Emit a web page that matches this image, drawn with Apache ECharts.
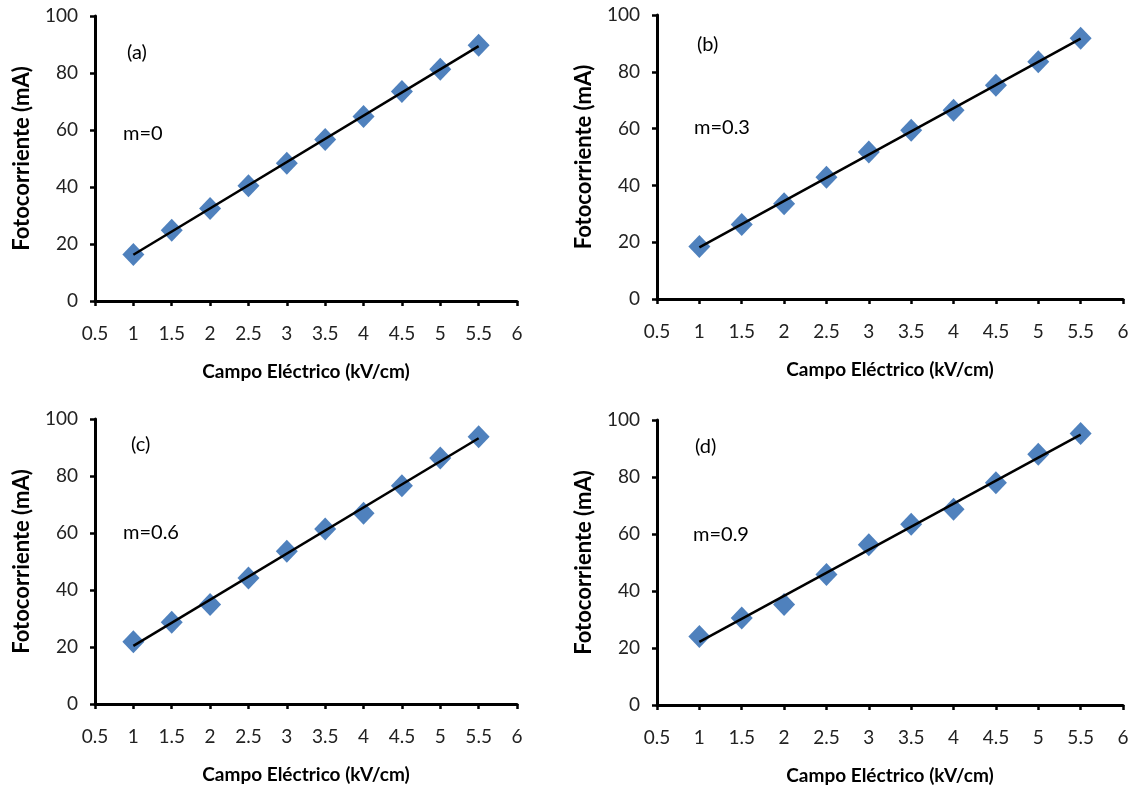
<!DOCTYPE html>
<html><head><meta charset="utf-8">
<script src="https://cdn.jsdelivr.net/npm/echarts@6/dist/echarts.min.js"></script>
<style>html,body{margin:0;padding:0;background:#fff}#c{width:1136px;height:792px}</style>
</head><body><div id="c"></div>
<script>
const xValues = [1, 1.5, 2, 2.5, 3, 3.5, 4, 4.5, 5, 5.5];
const seriesA = [16.3, 24.8, 32.5, 40.4, 48.3, 56.7, 64.7, 73.5, 81.3, 89.7];
const seriesB = [18.5, 26.2, 33.5, 42.9, 51.8, 59.4, 66.5, 75.3, 83.5, 91.8];
const seriesC = [21.8, 28.7, 34.9, 44.2, 53.6, 61.4, 66.9, 76.6, 86.3, 93.8];
const seriesD = [24.0, 30.5, 35.3, 45.8, 56.2, 63.4, 68.7, 78.0, 88.0, 95.3];
const panelLabels = ['(a)', '(b)', '(c)', '(d)'];
const mLabels = ['m=0', 'm=0.3', 'm=0.6', 'm=0.9'];
const xName = 'Campo Eléctrico (kV/cm)';
const yName = 'Fotocorriente (mA)';

const allSeries = [seriesA, seriesB, seriesC, seriesD];
const grids = [
  {left: 95, top: 16, width: 422, height: 285},
  {left: 657, top: 15, width: 466, height: 284},
  {left: 95, top: 419, width: 422, height: 285},
  {left: 657, top: 420, width: 466, height: 285}
];
const labelPos = [
  [[127, 43], [123, 124]],
  [[697, 35], [694, 118]],
  [[131, 435], [123, 523]],
  [[695, 437], [693, 525]]
];
const font = 'Lato, "Open Sans", sans-serif';

function fit(xs, ys) {
  const n = xs.length;
  let sx = 0, sy = 0, sxx = 0, sxy = 0;
  for (let i = 0; i < n; i++) { sx += xs[i]; sy += ys[i]; sxx += xs[i]*xs[i]; sxy += xs[i]*ys[i]; }
  const b = (n*sxy - sx*sy) / (n*sxx - sx*sx);
  const a = (sy - b*sx) / n;
  return [[xs[0], a + b*xs[0]], [xs[n-1], a + b*xs[n-1]]];
}

const xAxes = [], yAxes = [], series = [], graphics = [];
grids.forEach((g, i) => {
  xAxes.push({
    type: 'value', gridIndex: i, min: 0.5, max: 6, interval: 0.5,
    splitLine: {show: false},
    axisLine: {lineStyle: {color: '#000', width: 3}},
    axisTick: {show: true, length: 5, lineStyle: {color: '#000', width: 2.5}},
    axisLabel: {color: '#222', fontSize: 19, fontFamily: font, margin: 23},
    name: xName, nameLocation: 'middle', nameGap: 61,
    nameTextStyle: {color: '#000', fontSize: 19, fontWeight: 'bold', fontFamily: font}
  });
  yAxes.push({
    type: 'value', gridIndex: i, min: 0, max: 100, interval: 20,
    splitLine: {show: false},
    axisLine: {show: true, lineStyle: {color: '#000', width: 3}},
    axisTick: {show: true, length: 5, lineStyle: {color: '#000', width: 2.5}},
    axisLabel: {color: '#222', fontSize: 19, fontFamily: font, margin: 17},
    name: yName, nameLocation: 'middle', nameGap: 62,
    nameTextStyle: {color: '#000', fontSize: 22, fontWeight: 'bold', fontFamily: font}
  });
  const ys = allSeries[i];
  series.push({
    type: 'scatter', xAxisIndex: i, yAxisIndex: i,
    data: xValues.map((x, k) => [x, ys[k]]),
    symbol: 'diamond', symbolSize: [22, 23],
    itemStyle: {color: '#4F81BD', opacity: 1},
    z: 2
  });
  series.push({
    type: 'line', xAxisIndex: i, yAxisIndex: i,
    data: fit(xValues, ys), symbol: 'none',
    lineStyle: {color: '#000', width: 2.5},
    z: 3
  });
  graphics.push({type: 'text', left: labelPos[i][0][0], top: labelPos[i][0][1],
    style: {text: panelLabels[i], fontSize: 20, fontFamily: font, fill: '#000'}});
  graphics.push({type: 'text', left: labelPos[i][1][0], top: labelPos[i][1][1],
    style: {text: mLabels[i], fontSize: 20, fontFamily: font, fill: '#000'}});
});

const chart = echarts.init(document.getElementById('c'));
chart.setOption({
  animation: false,
  backgroundColor: '#fff',
  grid: grids,
  xAxis: xAxes,
  yAxis: yAxes,
  series: series,
  graphic: graphics
});
</script></body></html>
